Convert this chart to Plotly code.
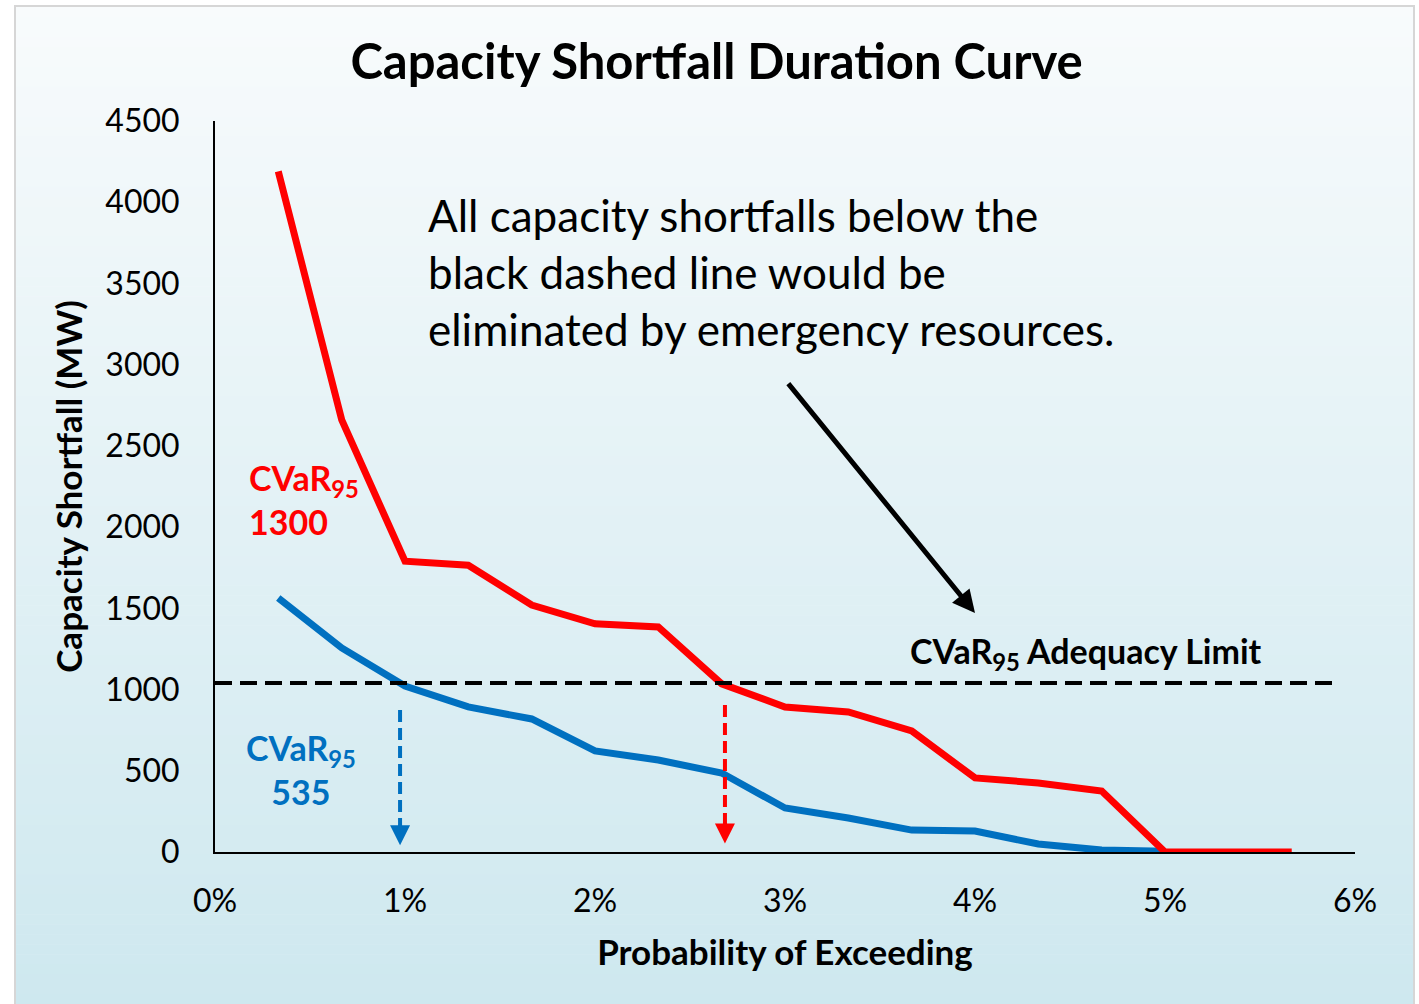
import plotly.graph_objects as go

# ---- data ----
prob = [0.00333, 0.00667, 0.01, 0.01333, 0.01667, 0.02, 0.02333, 0.02667, 0.03,
        0.03333, 0.03667, 0.04, 0.04333, 0.04667, 0.05, 0.05333, 0.05667]
red_mw = [4190, 2660, 1790, 1765, 1520, 1405, 1385, 1035, 893,
          862, 745, 456, 425, 375, 0, 0, 0]
blue_prob = prob[:15]
blue_mw = [1564, 1256, 1022, 893, 819, 622, 566, 486, 271,
           209, 135, 129, 49, 12, 5]
limit_mw = 1040
blue_cvar_prob = 0.00974
red_cvar_prob = 0.02684
x_ticks = [0, 0.01, 0.02, 0.03, 0.04, 0.05, 0.06]
y_ticks = [0, 500, 1000, 1500, 2000, 2500, 3000, 3500, 4000, 4500]

RED = "#FF0000"
BLUE = "#0070C0"
FONT = "Lato"

W, H = 1419, 1004
L, R, T, B = 215, 64, 121, 152
PW, PH = W - L - R, H - T - B


def px_x(px):
    return (px - L) / PW


def px_y(py):
    return (H - B - py) / PH


fig = go.Figure()

# background gradient + frame (decoration)
shapes = []
top_c = (248, 251, 252)
bot_c = (206, 232, 239)
y0, y1 = 7, 1004
n = 100
for i in range(n):
    a = y0 + (y1 - y0) * i / n
    b = y0 + (y1 - y0) * (i + 1) / n
    t = (i + 0.5) / n
    c = tuple(round(top_c[k] + (bot_c[k] - top_c[k]) * t) for k in range(3))
    shapes.append(dict(type="rect", xref="paper", yref="paper", layer="below",
                       x0=px_x(16), x1=px_x(1413), y0=px_y(a), y1=px_y(b + 0.6),
                       fillcolor="rgb(%d,%d,%d)" % c, line=dict(width=0)))
shapes.append(dict(type="rect", xref="paper", yref="paper", layer="below",
                   x0=px_x(15), x1=px_x(1414), y0=px_y(6), y1=px_y(1010),
                   fillcolor="rgba(0,0,0,0)", line=dict(color="#d6d6d6", width=2)))

fig.add_trace(go.Scatter(x=blue_prob, y=blue_mw, mode="lines",
                         line=dict(color=BLUE, width=7), hoverinfo="skip"))
fig.add_trace(go.Scatter(x=prob, y=red_mw, mode="lines",
                         line=dict(color=RED, width=7), hoverinfo="skip"))
fig.add_trace(go.Scatter(x=[0, 0.0592], y=[limit_mw, limit_mw], mode="lines",
                         line=dict(color="black", width=4, dash="17px,8px"),
                         hoverinfo="skip"))
fig.add_trace(go.Scatter(x=[blue_cvar_prob, blue_cvar_prob], y=[874, 100], mode="lines",
                         line=dict(color=BLUE, width=4, dash="12px,6px"), hoverinfo="skip"))
fig.add_trace(go.Scatter(x=[red_cvar_prob, red_cvar_prob], y=[905, 110], mode="lines",
                         line=dict(color=RED, width=4, dash="12px,6px"), hoverinfo="skip"))

annotations = [
    dict(x=blue_cvar_prob, y=42, ax=0, ay=-22, xref="x", yref="y", text="",
         showarrow=True, arrowhead=2, arrowsize=1.0, arrowwidth=4, arrowcolor=BLUE),
    dict(x=red_cvar_prob, y=52, ax=0, ay=-22, xref="x", yref="y", text="",
         showarrow=True, arrowhead=2, arrowsize=1.0, arrowwidth=4, arrowcolor=RED),
    dict(x=0.0400, y=1471, ax=0.03011, ay=2893, xref="x", yref="y", axref="x", ayref="y",
         text="", showarrow=True, arrowhead=2, arrowsize=0.9, arrowwidth=5,
         arrowcolor="black"),
    dict(x=0.0111, y=3570, xref="x", yref="y", xanchor="left", yanchor="middle",
         align="left", showarrow=False,
         text="All capacity shortfalls below the<br>black dashed line would be<br>"
              "eliminated by emergency resources.",
         font=dict(family=FONT, size=44, color="black")),
    dict(x=0.03647, y=1225, xref="x", yref="y", xanchor="left", yanchor="middle",
         showarrow=False, text="CVaR<sub>95</sub> Adequacy Limit",
         font=dict(family=FONT, size=34, color="black", weight=700)),
    dict(x=0.00168, y=2170, xref="x", yref="y", xanchor="left", yanchor="middle",
         align="left", showarrow=False, text="CVaR<sub>95</sub><br>1300",
         font=dict(family=FONT, size=34, color=RED, weight=700)),
    dict(x=0.00453, y=505, xref="x", yref="y", xanchor="center", yanchor="middle",
         align="center", showarrow=False, text="CVaR<sub>95</sub><br>535",
         font=dict(family=FONT, size=34, color=BLUE, weight=700)),
]

fig.update_layout(
    width=W, height=H,
    margin=dict(l=L, r=R, t=T, b=B),
    paper_bgcolor="white",
    plot_bgcolor="rgba(0,0,0,0)",
    showlegend=False,
    shapes=shapes,
    annotations=annotations,
    title=dict(text="Capacity Shortfall Duration Curve", x=0.505, y=1 - 62 / H,
               xanchor="center", yanchor="middle",
               font=dict(family=FONT, size=49, color="black", weight=700)),
    xaxis=dict(range=[0, 0.06], tickvals=x_ticks, tickformat=".0%",
               showgrid=False, zeroline=False, showline=True, linecolor="black",
               linewidth=2, ticks="", ticklabelstandoff=20,
               tickfont=dict(family=FONT, size=32, color="black"),
               title=dict(text="Probability of Exceeding", standoff=22,
                          font=dict(family=FONT, size=35, color="black", weight=700))),
    yaxis=dict(range=[0, 4500], tickvals=y_ticks,
               showgrid=False, zeroline=False, showline=True, linecolor="black",
               linewidth=2, ticks="", ticklabelstandoff=27,
               tickfont=dict(family=FONT, size=32, color="black"),
               title=dict(text="Capacity Shortfall (MW)", standoff=12,
                          font=dict(family=FONT, size=35, color="black", weight=700))),
)

fig.write_html("out.html", config={"displayModeBar": False},
               post_script="document.body.style.margin='0';")
